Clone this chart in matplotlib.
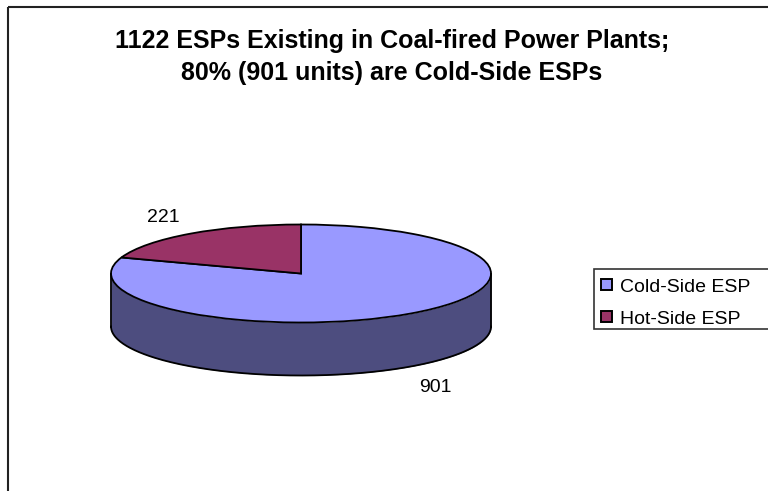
import numpy as np
import matplotlib
matplotlib.use("Agg")
import matplotlib.pyplot as plt
from matplotlib.patches import Rectangle

title_lines = ["1122 ESPs Existing in Coal-fired Power Plants;",
               "80% (901 units) are Cold-Side ESPs"]
categories = ["Cold-Side ESP", "Hot-Side ESP"]
units = [901, 221]
colors = ["#9999FF", "#993366"]
side_color = "#4D4D7F"

W, H = 768, 491
plt.rcParams["font.family"] = ["Liberation Sans", "DejaVu Sans"]
fig = plt.figure(figsize=(W / 100, H / 100), dpi=100, facecolor="white")

# Overlay in pixel units for the frame, legend and labels
page = fig.add_axes([0, 0, 1, 1], zorder=3)
page.set_xlim(0, W)
page.set_ylim(H, 0)
page.axis("off")
page.add_patch(Rectangle((8, 7), 800, 520, fill=False, ec="#222222", lw=1.5))

# Tilted pie: a unit pie squashed by non-equal axis scaling
cx, cy, rx, ry, depth = 301, 273.5, 190, 49, 53
pie_ax = fig.add_axes([(cx - rx) / W, 1 - (cy + ry) / H, 2 * rx / W, 2 * ry / H], zorder=2)
theta = np.linspace(np.pi, 2 * np.pi, 200)
xs, ys = np.cos(theta), np.sin(theta)
drop = 2 * depth / (2 * ry)
pie_ax.fill_between(xs, ys - drop, ys, color=side_color, lw=0, clip_on=False)
pie_ax.plot(xs, ys - drop, color="black", lw=1.3, clip_on=False)
pie_ax.plot([-1, -1], [0, -drop], color="black", lw=1.3, clip_on=False)
pie_ax.plot([1, 1], [0, -drop], color="black", lw=1.3, clip_on=False)
wedges, _ = pie_ax.pie(units, colors=colors, startangle=90, counterclock=False,
                       radius=1, wedgeprops=dict(edgecolor="black", linewidth=1.3, clip_on=False))
pie_ax.set_aspect("auto")
pie_ax.set_xlim(-1, 1)
pie_ax.set_ylim(-1, 1)
pie_ax.axis("off")

# Title
page.text(392, 48, title_lines[0], ha="center", va="baseline", fontsize=18, fontweight="bold")
page.text(392, 80, title_lines[1], ha="center", va="baseline", fontsize=18, fontweight="bold")

# Value labels
page.text(435, 392, str(units[0]), ha="center", va="baseline", fontsize=14)
page.text(163, 222, str(units[1]), ha="center", va="baseline", fontsize=14)

# Legend
page.add_patch(Rectangle((594, 269), 180, 60, fc="white", ec="#333333", lw=1.2))
for name, color, y in zip(categories, colors, [284, 316]):
    page.add_patch(Rectangle((601, y - 5.5), 11, 11, fc=color, ec="black", lw=1.4))
    page.text(619.5, y + 8, name, ha="left", va="baseline", fontsize=14)

fig.savefig("out.png", dpi=100, facecolor="white")
